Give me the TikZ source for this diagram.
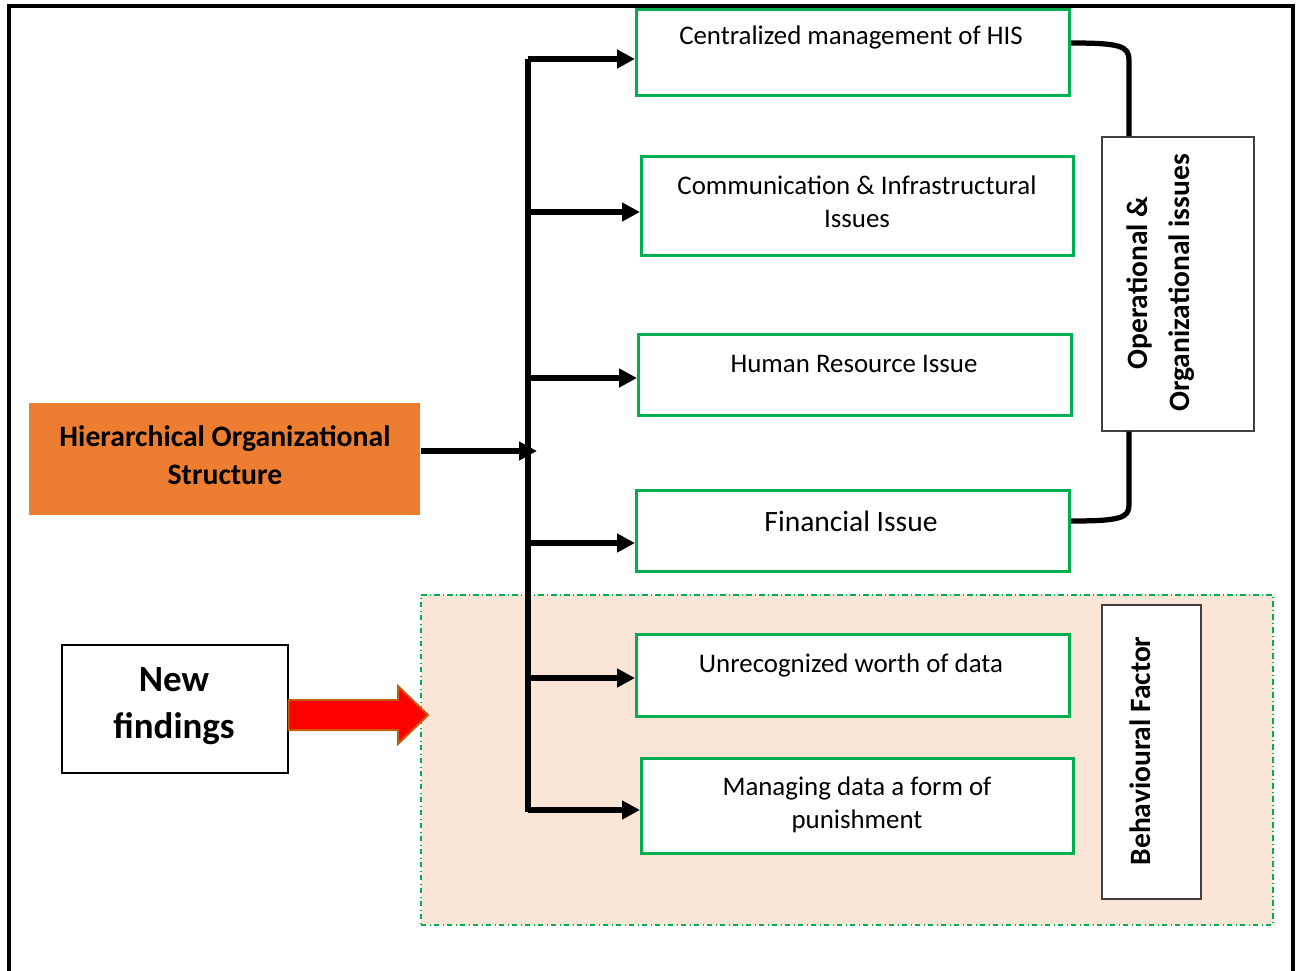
\documentclass[tikz,border=0pt]{standalone}
\usepackage{fontspec}
\setmainfont{Carlito}
\usetikzlibrary{arrows.meta,calc}
\definecolor{gr}{HTML}{00B050}
\definecolor{orng}{HTML}{ED7D31}
\definecolor{peach}{HTML}{FBE5D6}
\definecolor{brn}{HTML}{C55A11}
\begin{document}
\begin{tikzpicture}[x=0.02cm,y=-0.02cm,
  gbox/.style={draw=gr, fill=white, line width=0.06cm, anchor=north west, inner sep=0pt},
  kbox/.style={draw=black!75, line width=0.03cm, fill=white, anchor=north west, inner sep=0pt},
  txt/.style={font=\fontsize{15.3}{19}\selectfont, align=center, inner sep=0pt},
  conn/.style={line width=0.105cm},
  arr/.style={conn, -{Triangle[length=0.36cm,width=0.36cm]}},
  side/.style={font=\bfseries\fontsize{16.8}{24}\selectfont, align=center, rotate=90, inner sep=0pt}]
\useasboundingbox (0,0) rectangle (1300,970);
% outer frame
\draw[line width=0.08cm] (9,975) -- (9,6) -- (1293,6) -- (1293,975);
% behavioural region
\node[draw=gr, fill=peach, dash dot, line width=0.03cm, anchor=north west, inner sep=0pt,
  minimum width=852*0.02cm, minimum height=330*0.02cm] (reg) at (420,594) {};
% green boxes
\node[gbox, minimum width=433*0.02cm, minimum height=86*0.02cm] (b1) at (635,8) {};
\node[gbox, minimum width=432*0.02cm, minimum height=99*0.02cm] (b2) at (640,155) {};
\node[gbox, minimum width=433*0.02cm, minimum height=81*0.02cm] (b3) at (637,333) {};
\node[gbox, minimum width=433*0.02cm, minimum height=81*0.02cm] (b4) at (635,489) {};
\node[gbox, minimum width=433*0.02cm, minimum height=82*0.02cm] (b5) at (635,633) {};
\node[gbox, minimum width=432*0.02cm, minimum height=95*0.02cm] (b6) at (640,757) {};
\node[txt] (t1) at (851,37) {Centralized management of HIS};
\node[txt] (t2) at (857,202) {Communication \& Infrastructural\\Issues};
\node[txt] (t3) at (854,364) {Human Resource Issue};
\node[txt, font=\fontsize{16.8}{19}\selectfont] (t4) at (851,521) {Financial Issue};
\node[txt] (t5) at (851,665) {Unrecognized worth of data};
\node[txt] (t6) at (857,805) {Managing data a form of\\punishment};
% orange box
\node[fill=orng, anchor=north west, inner sep=0pt, minimum width=391*0.02cm, minimum height=112*0.02cm] (hos) at (29,403) {};
\node[txt, font=\bfseries\fontsize{16.9}{22}\selectfont] (hot) at (225,455) {Hierarchical Organizational\\Structure};
% new findings
\node[kbox, draw=black, minimum width=226*0.02cm, minimum height=128*0.02cm] (nf) at (61,644) {};
\node[txt, font=\bfseries\fontsize{21}{27}\selectfont] (nft) at (174,706) {New\\findings};
% red arrow
\draw[fill=red, draw=brn, line width=0.04cm] (nf.east |- 0,700) -- (398,700) -- (398,686) -- (428,715) -- (398,744) -- (398,730) -- (nf.east |- 0,730) -- cycle;
% side boxes
\node[kbox, minimum width=152*0.02cm, minimum height=294*0.02cm] (op) at (1101,136) {};
\node[side] (opt) at (1161,283) {Operational \&\\Organizational issues};
\node[kbox, minimum width=99*0.02cm, minimum height=294*0.02cm] (bf) at (1101,604) {};
\node[side] (bft) at (1140,751) {Behavioural Factor};
% trunk
\coordinate (top) at (528,59);
\coordinate (bot) at (528,812);
\coordinate (mid) at (537,451);
\draw[conn] (top) -- (bot);
\draw[arr] (hos.east |- mid) -- (mid);
\draw[arr] (top) -- (top -| b1.west);
\draw[arr] (525,212) -- (b2.west |- 0,212);
\draw[arr] (528,378) -- (b3.west |- 0,378);
\draw[arr] (528,543) -- (b4.west |- 0,543);
\draw[arr] (528,678) -- (b5.west |- 0,678);
\draw[arr] (528,810) -- (b6.west |- 0,810);
% curves to side box
\draw[conn] (b1.east |- 0,43) .. controls (1120,43) and (1129,46) .. (1129,60) -- (op.north -| 1129,0);
\draw[conn] (b4.east |- 0,521) .. controls (1120,521) and (1129,518) .. (1129,505) -- (op.south -| 1129,0);
\end{tikzpicture}
\end{document}
